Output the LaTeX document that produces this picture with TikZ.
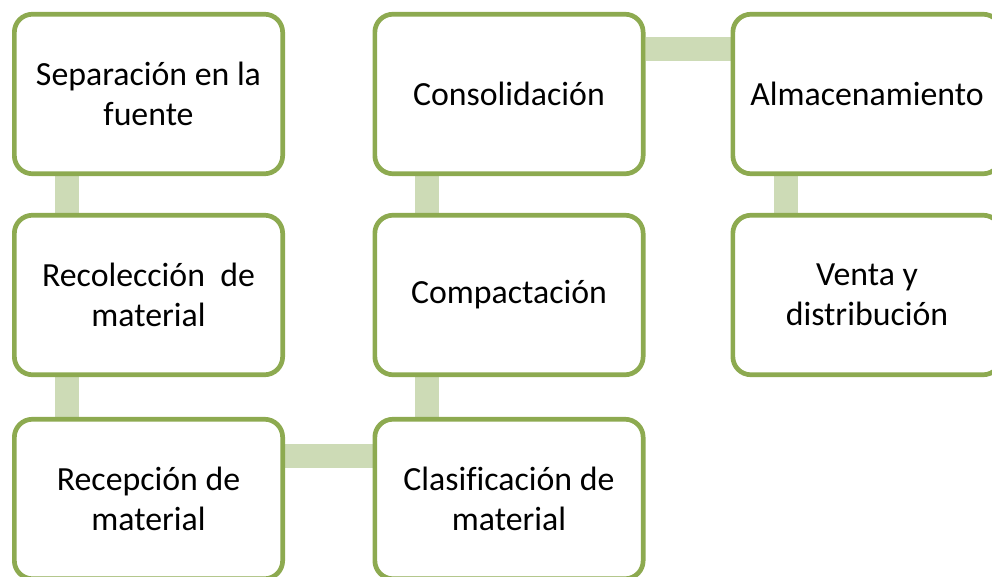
\documentclass[tikz,border=0pt]{standalone}
\usepackage{fontspec}
\setmainfont[Ligatures=NoCommon]{Carlito}
\usetikzlibrary{backgrounds}
\definecolor{boxgreen}{HTML}{8DAA50}
\definecolor{linkgreen}{HTML}{CDDBB6}
\tikzset{
  stepbox/.style={draw=boxgreen, fill=white, line width=4.7pt, rounded corners=18pt,
    minimum width=268.3pt, minimum height=159.5pt, inner sep=0pt,
    align=center, font=\fontsize{33.8}{40}\selectfont, text=black},
  link/.style={draw=linkgreen, line width=24pt}
}
\begin{document}
\begin{tikzpicture}[x=1pt,y=-1pt]
\useasboundingbox (0,0) rectangle (992,577);
\clip (0,0) rectangle (992,577);
\node[stepbox] (a) at (148.5,94) {Separación en la\\fuente};
\node[stepbox] (b) at (148.5,295) {Recolección\ \ de\\material};
\node[stepbox] (c) at (148.5,499) {Recepción de\\material};
\node[stepbox] (d) at (509,499) {Clasificación de\\material};
\node[stepbox] (e) at (509,295) {Compactación};
\node[stepbox] (f) at (509,94) {Consolidación};
\node[stepbox] (g) at (867,94) {Almacenamiento};
\node[stepbox] (h) at (867,295) {Venta y\\distribución};
\begin{pgfonlayer}{background}
\draw[link] ([xshift=54.65pt]a.south west) -- ([xshift=54.65pt]b.north west);
\draw[link] ([xshift=54.65pt]b.south west) -- ([xshift=54.65pt]c.north west);
\draw[link] ([yshift=-39.15pt]c.north east) -- ([yshift=-39.15pt]d.north west);
\draw[link] ([xshift=54.15pt]d.north west) -- ([xshift=54.15pt]e.south west);
\draw[link] ([xshift=54.15pt]e.north west) -- ([xshift=54.15pt]f.south west);
\draw[link] ([yshift=-37.15pt]f.north east) -- ([yshift=-37.15pt]g.north west);
\draw[link] ([xshift=55.15pt]g.south west) -- ([xshift=55.15pt]h.north west);
\end{pgfonlayer}
\end{tikzpicture}
\end{document}
